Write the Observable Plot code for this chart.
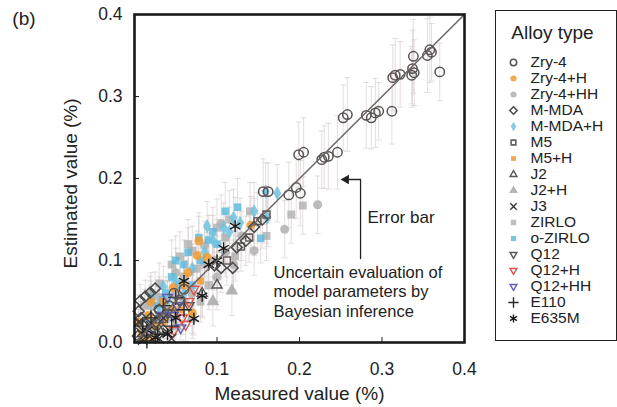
<!DOCTYPE html>
<html><head><meta charset="utf-8">
<script src="https://cdn.jsdelivr.net/npm/d3@7"></script>
<script src="https://cdn.jsdelivr.net/npm/@observablehq/plot@0.6"></script>
<style>
body{margin:0;background:#fff;font-family:"Liberation Sans",Arial,sans-serif;}
#wrap{position:relative;width:617px;height:407px;overflow:hidden;}
#main{position:absolute;left:0;top:0;}
#legend{position:absolute;left:495px;top:10px;width:120px;height:329px;border:1.3px solid #222;}
svg{font-family:"Liberation Sans",Arial,sans-serif;}
</style></head>
<body><div id="wrap"><div id="main"></div><div id="legend"></div></div>
<script>
// ---- data: [measured, estimated, error half-width] ----
const zry4 = [[0.358,0.357,0.040],[0.355,0.350,0.045],[0.360,0.354,0.035],[0.370,0.330,0.035],[0.338,0.349,0.045],[0.337,0.334,0.047],[0.339,0.329,0.040],[0.336,0.326,0.035],[0.313,0.323,0.040],[0.316,0.326,0.045],[0.322,0.327,0.040],[0.312,0.282,0.040],[0.281,0.277,0.040],[0.287,0.274,0.038],[0.292,0.280,0.042],[0.296,0.282,0.035],[0.253,0.274,0.040],[0.258,0.278,0.045],[0.199,0.229,0.040],[0.205,0.232,0.042],[0.227,0.223,0.035],[0.230,0.226,0.038],[0.235,0.227,0.040],[0.246,0.232,0.045],[0.156,0.184,0.040],[0.162,0.184,0.035],[0.187,0.180,0.040],[0.196,0.189,0.038],[0.201,0.182,0.040],[0.048,0.060,0.030],[0.055,0.052,0.030],[0.030,0.040,0.025],[0.042,0.045,0.030],[0.060,0.065,0.030],[0.035,0.030,0.025],[0.020,0.015,0.015]];
const zry4H = [[0.076,0.106,0.030],[0.088,0.104,0.030],[0.065,0.085,0.030],[0.047,0.067,0.025],[0.141,0.143,0.035],[0.070,0.036,0.025],[0.017,0.033,0.020],[0.010,0.012,0.015],[0.035,0.050,0.025],[0.025,0.020,0.020],[0.060,0.070,0.030],[0.078,0.124,0.030],[0.020,0.050,0.020],[0.045,0.040,0.020],[0.005,0.025,0.015]];
const zry4HH = [[0.222,0.168,0.035],[0.182,0.138,0.035],[0.145,0.112,0.030],[0.120,0.095,0.030],[0.100,0.080,0.030],[0.060,0.050,0.025],[0.040,0.030,0.025],[0.130,0.130,0.030],[0.085,0.118,0.030],[0.105,0.145,0.035],[0.020,0.045,0.020],[0.030,0.055,0.025],[0.070,0.060,0.025],[0.110,0.110,0.030],[0.050,0.085,0.030],[0.015,0.015,0.015]];
const mmda = [[0.155,0.150,0.035],[0.145,0.141,0.035],[0.135,0.124,0.030],[0.124,0.116,0.030],[0.119,0.091,0.030],[0.105,0.091,0.030],[0.097,0.094,0.030],[0.007,0.051,0.020],[0.013,0.056,0.020],[0.019,0.061,0.020],[0.025,0.066,0.020],[0.005,0.038,0.020],[0.010,0.021,0.015],[0.016,0.012,0.012],[0.004,0.008,0.010],[0.030,0.040,0.020],[0.020,0.030,0.020],[0.026,0.025,0.020],[0.035,0.015,0.015],[0.008,0.030,0.020]];
const mmdaH = [[0.173,0.182,0.035],[0.159,0.184,0.035],[0.120,0.152,0.035],[0.128,0.146,0.030],[0.161,0.152,0.035],[0.108,0.140,0.030],[0.088,0.142,0.030],[0.085,0.110,0.030],[0.035,0.068,0.025],[0.040,0.050,0.025],[0.022,0.020,0.020],[0.060,0.060,0.025],[0.145,0.160,0.035],[0.070,0.090,0.030],[0.095,0.125,0.030],[0.050,0.075,0.025],[0.115,0.135,0.030],[0.030,0.035,0.020]];
const m5 = [[0.149,0.148,0.035],[0.139,0.128,0.030],[0.129,0.117,0.030],[0.160,0.156,0.035],[0.045,0.035,0.025],[0.030,0.028,0.020],[0.112,0.100,0.030]];
const m5H = [[0.055,0.040,0.025],[0.035,0.025,0.020],[0.020,0.006,0.015],[0.010,0.004,0.012],[0.080,0.075,0.030]];
const j2 = [[0.100,0.070,0.030],[0.082,0.060,0.030],[0.030,0.015,0.020]];
const j2H = [[0.118,0.063,0.030],[0.095,0.050,0.030],[0.070,0.030,0.025],[0.050,0.020,0.020]];
const j3 = [[0.030,0.005,0.010],[0.018,0.008,0.012],[0.040,0.012,0.015],[0.010,0.003,0.010],[0.005,0.025,0.015],[0.020,0.020,0.015],[0.035,0.030,0.020],[0.045,0.005,0.010],[0.008,0.012,0.010]];
const zirlo = [[0.204,0.167,0.035],[0.190,0.156,0.035],[0.140,0.160,0.035],[0.110,0.128,0.030],[0.095,0.100,0.030],[0.070,0.112,0.030],[0.160,0.130,0.030],[0.122,0.105,0.030],[0.060,0.080,0.025],[0.050,0.060,0.025],[0.030,0.072,0.025],[0.080,0.050,0.025],[0.075,0.090,0.030],[0.012,0.045,0.020],[0.020,0.060,0.025],[0.045,0.095,0.030],[0.065,0.120,0.030],[0.085,0.095,0.030],[0.040,0.040,0.025],[0.100,0.140,0.035],[0.115,0.150,0.035],[0.055,0.105,0.030],[0.025,0.025,0.020],[0.090,0.070,0.030]];
const oZirlo = [[0.090,0.125,0.030],[0.078,0.128,0.030],[0.100,0.120,0.030],[0.153,0.127,0.030],[0.028,0.045,0.020],[0.034,0.052,0.020],[0.045,0.080,0.025],[0.060,0.095,0.030],[0.015,0.030,0.020],[0.070,0.070,0.025],[0.038,0.060,0.020],[0.050,0.100,0.030],[0.065,0.110,0.030],[0.020,0.055,0.020],[0.110,0.160,0.035],[0.125,0.165,0.035],[0.055,0.070,0.025],[0.080,0.100,0.030],[0.095,0.135,0.030]];
const q12 = [[0.055,0.050,0.025],[0.040,0.036,0.020],[0.066,0.045,0.025]];
const q12H = [[0.058,0.030,0.020],[0.066,0.050,0.025],[0.048,0.015,0.015],[0.072,0.065,0.025],[0.062,0.022,0.020]];
const q12HH = [[0.040,0.055,0.020],[0.047,0.033,0.020],[0.056,0.018,0.015],[0.034,0.033,0.020],[0.052,0.045,0.020]];
const e110 = [[0.028,0.010,0.012],[0.020,0.030,0.015],[0.045,0.020,0.015],[0.060,0.040,0.020],[0.015,0.002,0.010],[0.035,0.045,0.020],[0.010,0.020,0.015],[0.050,0.055,0.020]];
const e635m = [[0.122,0.142,0.035],[0.108,0.115,0.030],[0.082,0.057,0.025],[0.072,0.029,0.020],[0.040,0.010,0.015],[0.025,0.006,0.010],[0.100,0.100,0.030],[0.060,0.075,0.025],[0.015,0.015,0.015],[0.090,0.095,0.030],[0.050,0.030,0.020]];

const alloyNames = ["Zry-4","Zry-4+H","Zry-4+HH","M-MDA","M-MDA+H","M5","M5+H","J2","J2+H","J3","ZIRLO","o-ZIRLO","Q12","Q12+H","Q12+HH","E110","E635M"];
const alloyData = [zry4, zry4H, zry4HH, mmda, mmdaH, m5, m5H, j2, j2H, j3, zirlo, oZirlo, q12, q12H, q12HH, e110, e635m];
const ticks = [0, 0.1, 0.2, 0.3, 0.4];
const identityLine = [[0,0],[0.4,0.4]];
const xLabel = "Measured value (%)";
const yLabel = "Estimated value (%)";
const panelTag = "(b)";
const legendTitle = "Alloy type";
const note1 = "Error bar";
const note2 = "Uncertain evaluation of\nmodel parameters by\nBayesian inference";
// annotation anchor points, in data units
const note1Pos = [0.2824, 0.1524];
const note2Pos = [0.1685, 0.0628];
const xLabelPos = [0.2, -0.0622];
const yLabelPos = [-0.0765, 0.194];
const tagPos = [-0.134, 0.395];
const arrowPath = [[0.274,0.1024],[0.274,0.1988],[0.257,0.1988]];
const arrowTip = [0.2565, 0.1988];

// ---- styles ----
const styles = {
  "Zry-4":   {symbol:"circle",   fill:"none",    stroke:"#5a5252", r:4.7, sw:1.5},
  "Zry-4+H": {symbol:"circle",   fill:"#f09a30", stroke:"none",    r:4.5, op:0.85},
  "Zry-4+HH":{symbol:"circle",   fill:"#b0b0b0", stroke:"none",    r:4.5, op:0.85},
  "M-MDA":   {symbol:"diamond2", fill:"none",    stroke:"#4a4a4a", r:4.9, sw:1.5},
  "M-MDA+H": {symbol:"diamond",  fill:"#6fc3e2", stroke:"none",    r:4.3, op:0.85},
  "M5":      {symbol:"square2",  fill:"none",    stroke:"#6a5e5e", r:4.4, sw:1.6},
  "M5+H":    {symbol:"square",   fill:"#f09a30", stroke:"none",    r:4.0, op:0.85},
  "J2":      {symbol:"triangle2",fill:"none",    stroke:"#555",    r:4.8, sw:1.4},
  "J2+H":    {symbol:"triangle", fill:"#a8a8a8", stroke:"none",    r:4.8, op:0.85},
  "J3":      {symbol:"times",    fill:"none",    stroke:"#3a3a3a", r:4.4, sw:1.4},
  "ZIRLO":   {symbol:"square",   fill:"#ababab", stroke:"none",    r:4.5, op:0.75},
  "o-ZIRLO": {symbol:"square",   fill:"#58b8dc", stroke:"none",    r:4.3, op:0.8},
  "Q12":     {symbol:"triangle2",fill:"none",    stroke:"#555",    r:4.8, sw:1.4, rot:180},
  "Q12+H":   {symbol:"triangle2",fill:"none",    stroke:"#e0504a", r:4.8, sw:1.4, rot:180},
  "Q12+HH":  {symbol:"triangle2",fill:"none",    stroke:"#5c5cbc", r:4.8, sw:1.4, rot:180},
  "E110":    {symbol:"plus",     fill:"none",    stroke:"#2a2a2a", r:5.0, sw:1.4},
  "E635M":   {symbol:"asterisk", fill:"none",    stroke:"#1a1a1a", r:5.6, sw:1.4}
};
const drawOrder = ["ZIRLO","Zry-4+HH","J2+H","o-ZIRLO","M-MDA+H","Zry-4+H","M5+H","M5","M-MDA","J2","Q12","Q12+H","Q12+HH","J3","E110","E635M","Zry-4"];

const rows = alloyNames.flatMap((name, i) => alloyData[i].map(([x, y, e]) => ({name, x, y, e})));
const capSymbol = {draw(ctx, size) { const w = 3; ctx.moveTo(-w, 0); ctx.lineTo(w, 0); }};
const errColor = "#cfc3c3";
const fmt = d3.format(".1f");
const px = d => d[0], py = d => d[1];

const dotMarks = drawOrder.map(name => {
  const s = styles[name];
  return Plot.dot(rows.filter(d => d.name === name), {
    x: "x", y: "y", symbol: s.symbol, fill: s.fill, stroke: s.stroke, r: s.r,
    strokeWidth: s.sw || 1, rotate: s.rot || 0, fillOpacity: s.op || 1
  });
});

const main = Plot.plot({
  width: 480, height: 407,
  marginLeft: 134, marginRight: 16, marginTop: 14, marginBottom: 65,
  style: {fontFamily: '"Liberation Sans", Arial, sans-serif', background: "transparent", overflow: "visible"},
  x: {domain: [0, 0.4]},
  y: {domain: [0, 0.4]},
  marks: [
    Plot.ruleX(rows, {x: "x", y1: d => Math.max(0, d.y - d.e), y2: d => Math.min(0.4, d.y + d.e), stroke: errColor, strokeOpacity: 0.55, strokeWidth: 1}),
    Plot.dot(rows, {x: "x", y: d => Math.min(0.4, d.y + d.e), symbol: capSymbol, fill: "none", stroke: errColor, strokeOpacity: 0.55, strokeWidth: 1}),
    Plot.dot(rows, {x: "x", y: d => Math.max(0, d.y - d.e), symbol: capSymbol, fill: "none", stroke: errColor, strokeOpacity: 0.55, strokeWidth: 1}),
    ...dotMarks,
    Plot.line(identityLine, {x: px, y: py, stroke: "#6c6464", strokeWidth: 1.5}),
    Plot.line(arrowPath, {x: px, y: py, stroke: "#222", strokeWidth: 1.3}),
    Plot.dot([arrowTip], {x: px, y: py, symbol: "triangle", fill: "#222", r: 3.6, rotate: -90}),
    Plot.text([note1], {x: () => note1Pos[0], y: () => note1Pos[1], text: d => d, textAnchor: "start", fontSize: 17, fill: "#222"}),
    Plot.text([note2], {x: () => note2Pos[0], y: () => note2Pos[1], text: d => d, textAnchor: "start", lineAnchor: "middle", lineHeight: 1.18, fontSize: 16.5, fill: "#222"}),
    Plot.axisX({ticks, tickFormat: fmt, tickSize: -5, tickPadding: 25, fontSize: 17.5, label: null, stroke: "#222", color: "#222"}),
    Plot.axisY({ticks, tickFormat: fmt, tickSize: -5, tickPadding: 17, fontSize: 17.5, label: null, stroke: "#222", color: "#222"}),
    Plot.text([xLabel], {x: () => xLabelPos[0], y: () => xLabelPos[1], text: d => d, fontSize: 19, fill: "#222"}),
    Plot.text([yLabel], {x: () => yLabelPos[0], y: () => yLabelPos[1], rotate: -90, text: d => d, fontSize: 19, fill: "#222"}),
    Plot.text([panelTag], {x: () => tagPos[0], y: () => tagPos[1], text: d => d, fontSize: 19, fill: "#222"}),
    Plot.frame({stroke: "#1a1a1a", strokeWidth: 2.6})
  ]
});
document.getElementById("main").append(main);

const legend = Plot.plot({
  width: 120, height: 329,
  margin: 0,
  style: {fontFamily: '"Liberation Sans", Arial, sans-serif', background: "transparent"},
  y: {type: "point", domain: alloyNames, range: [42, 315], axis: null},
  marks: [
    Plot.text([legendTitle], {frameAnchor: "top", dx: -4, dy: 21, text: d => d, fontSize: 19, fill: "#222", lineAnchor: "middle"}),
    ...alloyNames.map(name => {
      const s = styles[name];
      return Plot.dot([name], {y: d => d, frameAnchor: "left", dx: 17, symbol: s.symbol, fill: s.fill, stroke: s.stroke, r: s.r * 0.68, strokeWidth: s.sw || 1, rotate: s.rot || 0, fillOpacity: s.op || 1});
    }),
    Plot.text(alloyNames, {y: d => d, frameAnchor: "left", dx: 34, text: d => d, textAnchor: "start", fontSize: 15.5, fill: "#222"})
  ]
});
document.getElementById("legend").append(legend);
</script>
</body></html>
